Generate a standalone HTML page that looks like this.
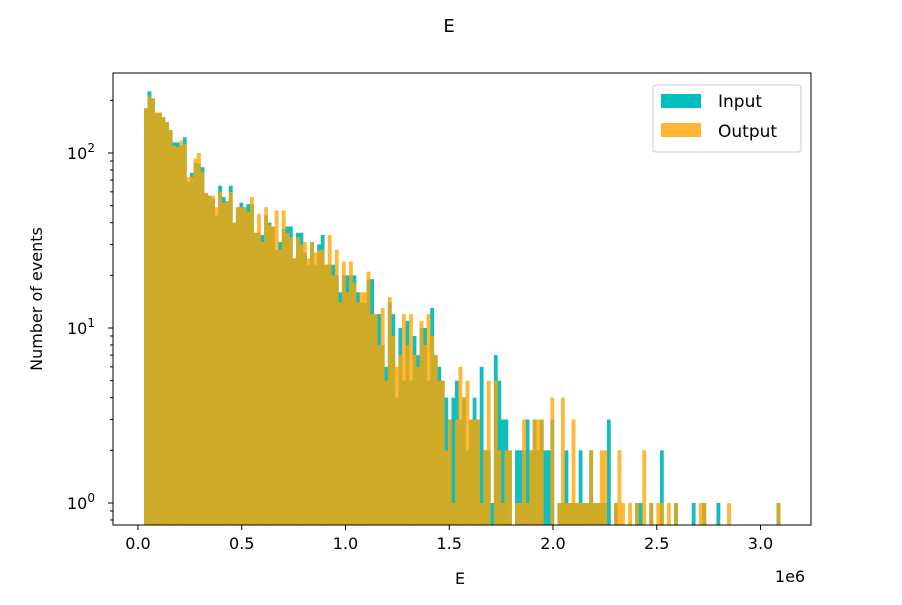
<!DOCTYPE html>
<html><head><meta charset="utf-8"><style>
body{margin:0;background:#fff;font-family:"Liberation Sans","DejaVu Sans",sans-serif}
svg text{font-family:"DejaVu Sans","Liberation Sans",sans-serif;fill:#000}
</style></head><body>
<svg id="chart" width="902" height="600" viewBox="0 0 902 600" xmlns="http://www.w3.org/2000/svg">
<rect width="902" height="600" fill="#fff"/>
<text x="449" y="32" font-size="18" text-anchor="middle">E</text>
<g id="bars"></g>
<g id="axes"></g>
<text transform="translate(42,299) rotate(-90)" font-size="16" text-anchor="middle">Number of events</text>
<text x="460" y="584" font-size="16" text-anchor="middle">E</text>
<text x="790" y="582" font-size="16" text-anchor="middle">1e6</text>
<g>
<rect x="653" y="85" width="148" height="67" rx="3" fill="#fff" fill-opacity="0.8" stroke="#ccc"/>
<g><rect x="661" y="94" width="40" height="14" fill="#00bfbf"/><text x="718" y="107" font-size="17">Input</text></g>
<g><rect x="661" y="123" width="40" height="14" fill="#ffa500" fill-opacity="0.8"/><text x="718" y="137" font-size="17">Output</text></g>
</g>
</svg>
<script>
const binStart = 0.029;
const binWidth = 0.01703;
const inputCounts = [180,225,205,170,170,160,150,135,115,115,
110,123,68,77,88,87,83,59,57,55,
44,65,56,53,65,40,49,52,49,51,
51,35,35,34,44,40,38,28,31,37,
38,38,25,35,35,27,23,31,23,30,
34,23,23,23,20,16,20,20,20,20,
16,14,14,19,19,12,12,8,6,14,
12,4,10,5,11,5,9,7,10,10,
5,13,7,6,5,4,3,4,5,3,
4,2,3,4,3,6,2,2,1,7,
5,3,3,2,0,2,2,2,3,2,
3,2,3,2,2,3,0,1,1,2,
1,1,1,2,1,1,2,1,1,1,
1,3,0,1,0,0,0,0,0,1,
1,0,0,1,0,0,2,0,0,0,
1,0,0,0,0,1,0,0,1,0,
0,0,1,0,0,0,0,0,0,0,
0,0,0,0,0,0,0,0,0,1];
const outputCounts = [180,210,205,170,170,160,150,135,110,108,
118,112,73,73,93,100,78,59,57,57,
49,60,52,53,60,40,49,49,49,46,
56,35,45,31,49,39,38,47,28,47,
35,33,25,33,30,31,25,31,27,28,
28,23,34,20,28,14,24,16,24,18,
14,16,16,21,12,12,8,13,5,15,
9,6,7,12,8,12,7,6,11,8,
12,9,7,5,5,2,3,1,3,6,
4,5,3,3,3,1,2,5,0,5,
2,1,2,2,0,1,1,3,1,2,
3,3,3,0,0,4,0,1,4,1,
1,3,1,1,1,1,2,1,1,2,
2,0,0,1,2,1,0,1,0,1,
0,2,0,1,0,1,1,0,1,0,
1,0,0,0,0,0,0,1,1,0,
0,0,0,0,0,1,0,0,0,0,
0,0,0,0,0,0,0,0,0,1];
const xTicks = [0,0.5,1.0,1.5,2.0,2.5,3.0];
const xTickLabels = ["0.0","0.5","1.0","1.5","2.0","2.5","3.0"];
const yDecades = [0,1,2];

const NS="http://www.w3.org/2000/svg";
const L=113,R=811,T=73,B=525;
function xs(v){return 138+v*207.5;}
function ys(c){return 503-175*Math.log10(c);}
function mk(tag,attrs,parent){const e=document.createElementNS(NS,tag);for(const k in attrs)e.setAttribute(k,attrs[k]);parent.appendChild(e);return e;}
const bars=document.getElementById('bars');
const axes=document.getElementById('axes');
function drawSeries(arr,fill,op,name){
  arr.forEach((c,i)=>{
    if(c<=0)return;
    const x0=xs(binStart+i*binWidth),x1=xs(binStart+(i+1)*binWidth);
    const y=Math.max(T,ys(c));
    const r=mk('rect',{x:x0,y:y,width:x1-x0+0.3,height:B-y,fill:fill,'fill-opacity':op},bars);
    
    
  });
}
drawSeries(inputCounts,'#14bdbd',1,'input');
drawSeries(outputCounts,'#ffa500',0.78,'output');
mk('rect',{x:L,y:T,width:R-L,height:B-T,fill:'none',stroke:'#000','stroke-width':1},axes);
xTicks.forEach((v,i)=>{
  const x=xs(v);
  mk('line',{x1:x,x2:x,y1:B,y2:B+5,stroke:'#000'},axes);
  const t=mk('text',{x:x,y:B+24,'font-size':'16','text-anchor':'middle'},axes);
  t.textContent=xTickLabels[i];
  
  
});
yDecades.forEach(d=>{
  const y=ys(Math.pow(10,d));
  mk('line',{x1:L-5,x2:L,y1:y,y2:y,stroke:'#000'},axes);
  const t=mk('text',{x:L-32,y:y+6,'font-size':'16','text-anchor':'middle'},axes);
  t.innerHTML='10<tspan dy="-7" font-size="12">'+d+'</tspan>';
  
  
});
for(let d=-1;d<=2;d++){for(let m=2;m<=9;m++){const y=ys(m*Math.pow(10,d));if(y<T||y>B)continue;mk('line',{x1:L-3,x2:L,y1:y,y2:y,stroke:'#000'},axes);}}
</script>
</body></html>
